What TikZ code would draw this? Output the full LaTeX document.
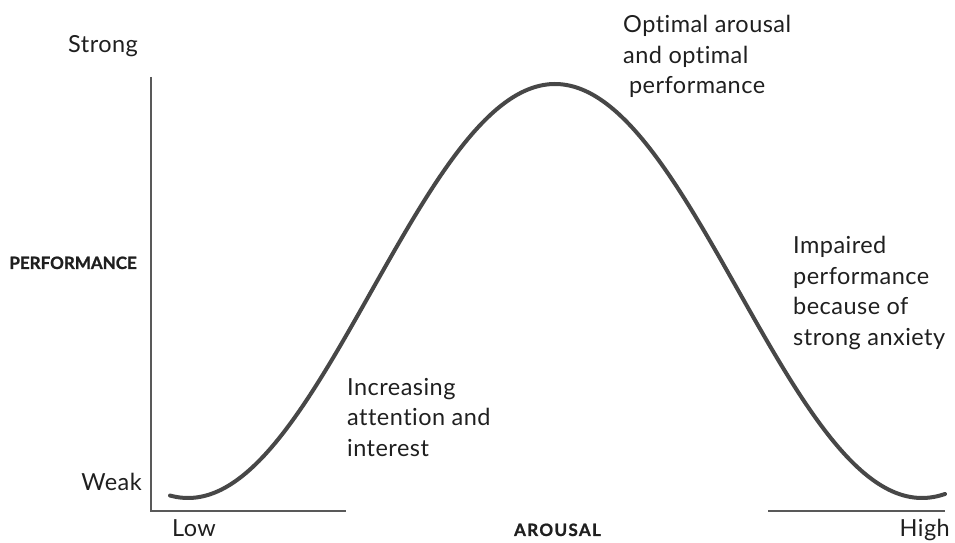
\documentclass[tikz,border=0pt]{standalone}
\usepackage{fontspec}
\setmainfont{Lato}[Ligatures=NoCommon]
\usetikzlibrary{positioning}
\colorlet{crvc}{black!72}
\colorlet{axc}{black!65}
\colorlet{txc}{black!88}
\tikzset{lbl/.style={
  inner sep=0pt,
  text=txc,
  font=\fontsize{23.5}{30.5}\selectfont\addfontfeature{LetterSpace=2},
}}
\tikzset{axtitle/.style={
  lbl,
  font=\fontsize{17}{19}\selectfont\bfseries\addfontfeature{FakeBold=1.2},
}}
\tikzset{note/.style={lbl,align=left,anchor=north west}}
\tikzset{axl/.style={axc,line width=1.4pt}}
\tikzset{bell/.style={crvc,line width=4pt,line cap=round}}

\begin{document}
\begin{tikzpicture}[x=1pt,y=1pt]
  \useasboundingbox (0,0) rectangle (955,543);
  % Axes
  \coordinate (top) at (151,466);
  \coordinate (orig) at (151,32);
  \coordinate (lend) at (346,32);
  \coordinate (rbeg) at (768,32);
  \coordinate (rend) at (945,32);
  \draw[axl] (top) -- (orig) -- (lend);
  \draw[axl] (rbeg) -- (rend);
  % Curve
  \draw[bell] plot[domain=170:945,samples=140,smooth]
    (\x,{45+207*(1+cos((\x-555)/367*180))});
  % Axis labels
  \node[lbl,anchor=base west] (strong) at (68,490) {Strong};
  \node[lbl,anchor=base east] (weak) at (142,52) {Weak};
  \node[lbl,anchor=base west] (low) at (172,6) {Low};
  \node[lbl,anchor=base east] (high) at (950,6) {High};
  \node[axtitle,anchor=base east] (perf) at (137,274) {PERFORMANCE};
  \node[axtitle,anchor=base] (arousal) at (557.5,7)
    {\addfontfeature{LetterSpace=8}AROUSAL};
  % Notes
  \node[note] (optimal) at (623,528)
    {Optimal arousal\\and optimal\\\hspace*{0.25em}performance};
  \node[note] (increase) at (347,165)
    {Increasing\\attention and\\interest};
  \node[note] (impaired) at (793,307)
    {Impaired\\performance\\because of\\strong anxiety};
\end{tikzpicture}
\end{document}
